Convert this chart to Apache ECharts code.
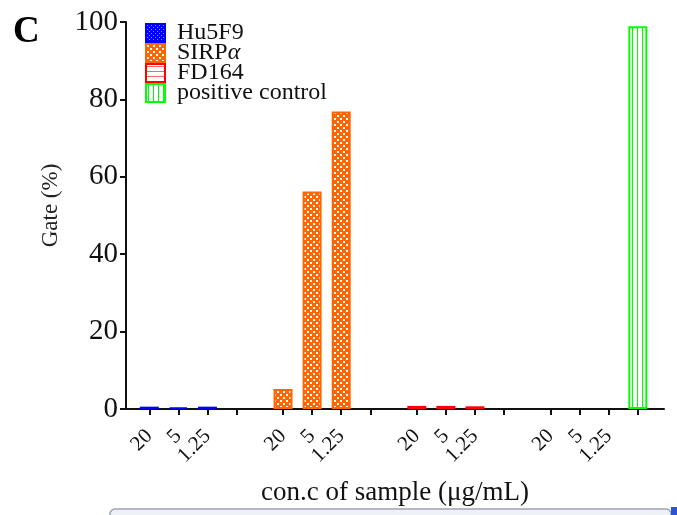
<!DOCTYPE html>
<html>
<head>
<meta charset="utf-8">
<script src="https://cdn.jsdelivr.net/npm/echarts@6/dist/echarts.min.js"></script>
<style>
  html, body { margin: 0; padding: 0; background: #fff; }
  #GateChart { width: 677px; height: 515px; }
</style>
</head>
<body>
<div id="GateChart"></div>
<script>
// tick slots along the x axis (5 units per slot, wider gap between groups)
const tickPos = [0, 5, 10, 15, 23, 28, 33, 38, 46, 51, 56, 61, 69, 74, 79, 84];
const tickLabels = ['20', '5', '1.25', '', '20', '5', '1.25', '', '20', '5', '1.25', '', '20', '5', '1.25', ''];

const seriesNames = ['Hu5F9', 'SIRPα', 'FD164', 'positive control'];
const hu5f9Pos = [0, 5, 10];
const hu5f9Vals = [0.6, 0.4, 0.6];
const sirpaPos = [23, 28, 33];
const sirpaVals = [5.2, 56.2, 76.9];
const fd164Pos = [46, 51, 56];
const fd164Vals = [0.8, 0.8, 0.7];
const posCtrlPos = [84];
const posCtrlVals = [98.9];

const yTicks = [0, 20, 40, 60, 80, 100];

const serif = "'Liberation Serif', 'DejaVu Serif', serif";

// small tiles used as pattern fills
const makeTile = (w, h, draw) => {
  const c = document.createElement('canvas');
  c.width = w;
  c.height = h;
  draw(c.getContext('2d'));
  return { image: c, repeat: 'repeat' };
};

const bluePattern = makeTile(4, 4, (ctx) => {
  ctx.fillStyle = '#0000ff';
  ctx.fillRect(0, 0, 4, 4);
  ctx.fillStyle = '#8c8cff';
  ctx.fillRect(1, 1, 1, 1);
  ctx.fillRect(3, 3, 1, 1);
});
const orangePattern = makeTile(6, 6, (ctx) => {
  ctx.fillStyle = '#ff6600';
  ctx.fillRect(0, 0, 6, 6);
  ctx.fillStyle = '#ffffff';
  ctx.fillRect(1, 1, 2, 2);
  ctx.fillRect(4, 4, 2, 2);
});
const redPattern = makeTile(4, 5, (ctx) => {
  ctx.fillStyle = '#ffffff';
  ctx.fillRect(0, 0, 4, 5);
  ctx.fillStyle = 'rgba(255,0,0,0.6)';
  ctx.fillRect(0, 2, 4, 1);
});
const greenPattern = makeTile(5, 4, (ctx) => {
  ctx.fillStyle = '#ffffff';
  ctx.fillRect(0, 0, 5, 4);
  ctx.fillStyle = '#00ff00';
  ctx.fillRect(2, 0, 1, 4);
});

const pairs = (xs, ys) => xs.map((x, i) => [x, ys[i]]);

const barSeries = (name, data, fill, border) => ({
  name: name,
  type: 'bar',
  barWidth: 19,
  barGap: '-100%',
  data: data,
  itemStyle: {
    color: fill,
    borderColor: border,
    borderWidth: 2
  }
});

const labelFor = (v) => {
  const i = tickPos.findIndex((p) => Math.abs(p - v) < 0.01);
  return i >= 0 ? tickLabels[i] : '';
};

const myChart = echarts.init(document.getElementById('GateChart'));

const option = {
  animation: false,
  title: {
    text: 'C',
    left: 8,
    top: 9,
    textStyle: { fontFamily: serif, fontWeight: 'bold', fontSize: 37, color: '#000' }
  },
  legend: {
    orient: 'vertical',
    left: 145,
    top: 21,
    padding: 0,
    itemWidth: 19,
    itemHeight: 18,
    itemGap: -4,
    icon: 'rect',
    data: seriesNames,
    formatter: (name) => (name === 'SIRPα' ? 'SIRP{i|α}' : name),
    textStyle: {
      fontFamily: serif,
      fontSize: 24,
      lineHeight: 19,
      color: '#111',
      padding: [0, 0, 0, 7],
      rich: {
        i: { fontFamily: serif, fontSize: 24, lineHeight: 19, fontStyle: 'italic', color: '#111' }
      }
    }
  },
  grid: {
    left: 126,
    right: 13,
    top: 22,
    bottom: 106
  },
  xAxis: {
    type: 'value',
    min: -4,
    max: 88.5,
    name: 'con.c of sample (μg/mL)',
    nameLocation: 'middle',
    nameGap: 70,
    nameTextStyle: {
      fontFamily: serif,
      fontSize: 27,
      color: '#111'
    },
    splitLine: { show: false },
    axisLine: { onZero: false, lineStyle: { color: '#111', width: 2 } },
    axisTick: {
      customValues: tickPos,
      length: 6,
      lineStyle: { color: '#111', width: 2 }
    },
    axisLabel: {
      customValues: tickPos,
      formatter: labelFor,
      rotate: 45,
      margin: 24,
      fontFamily: serif,
      fontSize: 21,
      color: '#111'
    }
  },
  yAxis: {
    type: 'value',
    min: 0,
    max: 100,
    interval: 20,
    name: 'Gate (%)',
    nameLocation: 'middle',
    nameGap: 64,
    nameTextStyle: {
      fontFamily: serif,
      fontSize: 23,
      color: '#222',
      padding: [0, 0, 0, 20]
    },
    splitLine: { show: false },
    axisLine: { show: true, onZero: false, lineStyle: { color: '#111', width: 2 } },
    axisTick: { show: true, length: 6, lineStyle: { color: '#111', width: 2 } },
    axisLabel: {
      margin: 8,
      fontFamily: serif,
      fontSize: 29,
      color: '#111',
      customValues: yTicks
    }
  },
  graphic: [
    {
      type: 'rect',
      shape: { x: 110, y: 509, width: 561, height: 14, r: 5 },
      style: { fill: '#eef1f6', stroke: '#9aa4b2', lineWidth: 1.5 },
      silent: true
    },
    {
      type: 'rect',
      shape: { x: 671, y: 507, width: 6, height: 8 },
      style: { fill: '#2b55d6' },
      silent: true
    }
  ],
  series: [
    barSeries('Hu5F9', pairs(hu5f9Pos, hu5f9Vals), bluePattern, '#0000ff'),
    barSeries('SIRPα', pairs(sirpaPos, sirpaVals), orangePattern, '#ff6600'),
    barSeries('FD164', pairs(fd164Pos, fd164Vals), redPattern, '#ff0000'),
    barSeries('positive control', pairs(posCtrlPos, posCtrlVals), greenPattern, '#00ff00')
  ]
};

myChart.setOption(option);
</script>
</body>
</html>
